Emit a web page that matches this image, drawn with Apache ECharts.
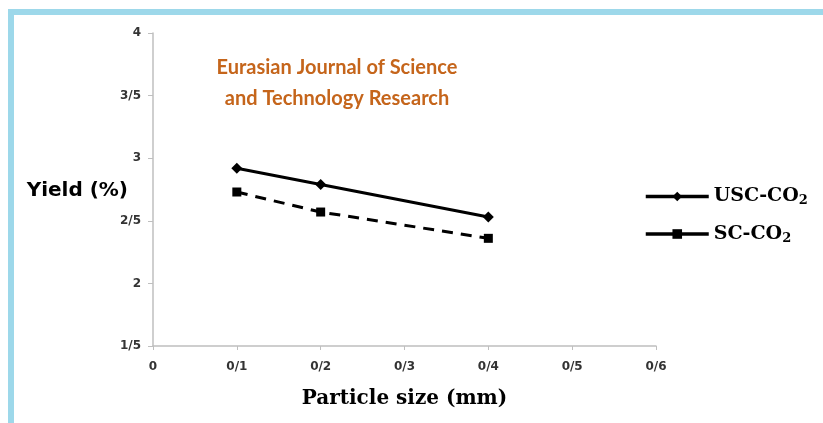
<!DOCTYPE html>
<html>
<head>
<meta charset="utf-8">
<script src="https://cdn.jsdelivr.net/npm/echarts@6/dist/echarts.min.js"></script>
<style>
html,body{margin:0;padding:0;background:#fff;}
#chart{width:823px;height:423px;}
</style>
</head>
<body>
<div id="chart"></div>
<script>
// ---- data ----
const particleSizes = [0.1, 0.2, 0.4];
const uscYield = [2.92, 2.79, 2.53];
const scYield = [2.73, 2.57, 2.36];
const seriesNames = ['USC-CO2', 'SC-CO2'];
const xTickLabels = ['0', '0/1', '0/2', '0/3', '0/4', '0/5', '0/6'];
const yTickLabels = ['1/5', '2', '2/5', '3', '3/5', '4'];

const chart = echarts.init(document.getElementById('chart'));

function xLabel(v) { return xTickLabels[Math.round(v * 10)]; }
function yLabel(v) { return yTickLabels[Math.round((v - 1.5) * 2)]; }
function legendText(name) {
  const base = name.replace(/2$/, '');
  return '{a|' + base + '}{s|2}';
}

const axisColor = '#bfbfbf';
const labelStyle = { color: '#333333', fontFamily: 'DejaVu Sans', fontWeight: 'bold', fontSize: 12 };

chart.setOption({
  backgroundColor: '#ffffff',
  animation: false,
  title: {
    text: 'Eurasian Journal of Science\nand Technology Research',
    left: 332, top: 47,
    textAlign: 'center',
    textStyle: { color: '#c5651b', fontFamily: 'Lato', fontWeight: 'bold', fontSize: 20, lineHeight: 31 }
  },
  graphic: [
    { type: 'rect', shape: { x: 8, y: 9, width: 815, height: 6 }, style: { fill: '#9dd8ea' }, silent: true },
    { type: 'rect', shape: { x: 8, y: 9, width: 6, height: 414 }, style: { fill: '#9dd8ea' }, silent: true },
    { type: 'text', x: 128, y: 191, silent: true,
      style: { text: 'Yield (%)', align: 'right', verticalAlign: 'middle', fill: '#000',
               font: 'bold 20px "DejaVu Sans"' } }
  ],
  legend: {
    orient: 'vertical',
    left: 639, top: 182,
    itemWidth: 63, itemHeight: 12, itemGap: 17,
    data: [
      { name: seriesNames[0], lineStyle: { width: 3.5 } },
      { name: seriesNames[1], lineStyle: { type: 'solid', width: 3.5 } }
    ],
    formatter: legendText,
    textStyle: {
      color: '#000',
      rich: {
        a: { fontFamily: 'DejaVu Serif', fontWeight: 'bold', fontSize: 19, color: '#000' },
        s: { fontFamily: 'DejaVu Serif', fontWeight: 'bold', fontSize: 13, color: '#000', padding: [9, 0, 0, 0] }
      }
    }
  },
  grid: { left: 153, right: 167, top: 33, bottom: 77, containLabel: false },
  xAxis: {
    type: 'value', min: 0, max: 0.6, interval: 0.1,
    name: 'Particle size (mm)', nameLocation: 'middle', nameGap: 43,
    nameTextStyle: { color: '#000', fontFamily: 'DejaVu Serif', fontWeight: 'bold', fontSize: 20 },
    axisLine: { show: true, lineStyle: { color: axisColor, width: 1.5 } },
    axisTick: { show: true, length: 4, lineStyle: { color: axisColor } },
    axisLabel: Object.assign({ formatter: xLabel, margin: 15 }, labelStyle),
    splitLine: { show: false }
  },
  yAxis: {
    type: 'value', min: 1.5, max: 4, interval: 0.5,
    axisLine: { show: true, lineStyle: { color: axisColor, width: 1.5 } },
    axisTick: { show: true, length: 5, lineStyle: { color: axisColor } },
    axisLabel: Object.assign({ formatter: yLabel, margin: 12 }, labelStyle),
    splitLine: { show: false }
  },
  series: [
    {
      name: seriesNames[0], type: 'line',
      data: particleSizes.map((x, i) => [x, uscYield[i]]),
      symbol: 'diamond', symbolSize: 11,
      itemStyle: { color: '#000' },
      lineStyle: { color: '#000', width: 3, type: 'solid' }
    },
    {
      name: seriesNames[1], type: 'line',
      data: particleSizes.map((x, i) => [x, scYield[i]]),
      symbol: 'rect', symbolSize: 9,
      itemStyle: { color: '#000' },
      lineStyle: { color: '#000', width: 3, type: [11, 8] }
    }
  ]
});
</script>
</body>
</html>
